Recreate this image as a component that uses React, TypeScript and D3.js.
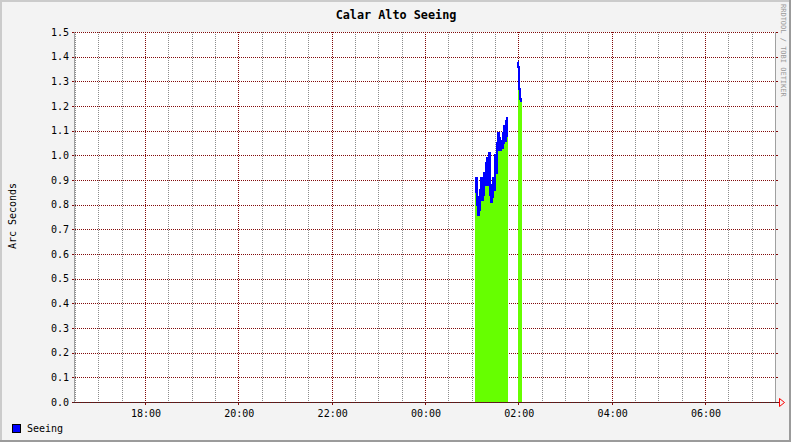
import React from 'react';
import * as d3 from 'd3';

const TITLE = 'Calar Alto Seeing';
const Y_LABEL = 'Arc Seconds';
const WATERMARK = 'RRDTOOL / TOBI OETIKER';
const SERIES_NAME = 'Seeing';

const RANGE_START = '2000-01-01T16:30:00Z';
const RANGE_END = '2000-01-02T07:30:00Z';
const DAY1 = '2000-01-01';
const DAY2 = '2000-01-02';

const Y_TICKS = [0.0, 0.1, 0.2, 0.3, 0.4, 0.5, 0.6, 0.7, 0.8, 0.9, 1.0, 1.1, 1.2, 1.3, 1.4, 1.5];
const X_MAJOR_LABELS = ['18:00', '20:00', '22:00', '00:00', '02:00', '04:00', '06:00'];

const STEP_MIN = 1;
const SEG1_START = '01:04';
const SEG1_VALUES = [
  0.90, 0.85, 0.91, 0.80, 0.76, 0.83, 0.78, 0.86, 0.91, 0.82,
  0.89, 0.84, 0.93, 0.88, 0.97, 0.91, 0.99, 0.88, 1.01, 0.92,
  0.84, 0.81, 0.88, 0.83, 0.91, 0.86, 1.00, 0.93, 1.05, 1.02,
  1.09, 1.03, 1.07, 1.02, 1.06, 1.03, 1.09, 1.05, 1.12, 1.06,
  1.14, 1.08, 1.15,
];
const SEG2_START = '01:59';
const SEG2_VALUES = [1.38, 1.36, 1.27, 1.23, 1.22, 1.22];

const W = 791;
const H = 442;
const LEFT = 75;
const RIGHT = 775;
const TOP = 32;
const BOTTOM = 402;

const MONO = '"DejaVu Sans Mono", "Liberation Mono", monospace';
const MGRID = '#820a0a';
const GRID = '#8c8c8c';

function toDate(hm: string, day: string) {
  return new Date(`${day}T${hm}:00Z`);
}

function buildSeg(start: string, values: number[]) {
  const t0 = toDate(start, DAY2).getTime();
  const pts = values.map((v, i) => ({ t: new Date(t0 + i * STEP_MIN * 60000), v }));
  // closing point so the last step has width
  pts.push({ t: new Date(t0 + values.length * STEP_MIN * 60000), v: values[values.length - 1] });
  return pts;
}

export default function App() {
  const x = d3.scaleUtc().domain([new Date(RANGE_START), new Date(RANGE_END)]).range([LEFT, RIGHT]);
  const y = d3.scaleLinear().domain([0, 1.5]).range([BOTTOM, TOP]);

  const minorTicks = x.ticks(d3.utcMinute.every(30) as any);
  const majorTicks = X_MAJOR_LABELS.map((l) => (l >= '12:00' ? toDate(l, DAY1) : toDate(l, DAY2)));
  const fmt = d3.utcFormat('%H:%M');

  const segs = [buildSeg(SEG1_START, SEG1_VALUES), buildSeg(SEG2_START, SEG2_VALUES)];
  const area = d3
    .area<{ t: Date; v: number }>()
    .x((d) => x(d.t))
    .y0(y(0))
    .y1((d) => y(d.v))
    .curve(d3.curveStepAfter);
  const line = d3
    .line<{ t: Date; v: number }>()
    .x((d) => x(d.t))
    .y((d) => y(d.v))
    .curve(d3.curveStepAfter);

  const px = (v: number) => Math.round(v) + 0.5;

  return (
    <svg
      width={W}
      height={H}
      style={{ position: 'absolute', left: 0, top: 0, display: 'block' }}
      fontFamily={MONO}
    >
      <rect x={0} y={0} width={W} height={H} fill="#f3f3f3" />
      <rect x={0} y={0} width={W} height={2} fill="#cbcbcb" />
      <rect x={0} y={0} width={2} height={H} fill="#cbcbcb" />
      <rect x={0} y={H - 2} width={W} height={2} fill="#9b9b9b" />
      <rect x={W - 2} y={0} width={2} height={H} fill="#9b9b9b" />

      <rect x={LEFT} y={TOP} width={RIGHT - LEFT} height={BOTTOM - TOP} fill="#ffffff" />

      <g shapeRendering="crispEdges">
        {minorTicks.map((t, i) => (
          <line key={'mv' + i} x1={px(x(t))} x2={px(x(t))} y1={TOP} y2={BOTTOM} stroke={GRID} strokeDasharray="1,1" />
        ))}
        {majorTicks.map((t, i) => (
          <g key={'Mv' + i}>
            <line x1={px(x(t))} x2={px(x(t))} y1={TOP} y2={BOTTOM} stroke={MGRID} strokeDasharray="1,1" />
            <line x1={px(x(t))} x2={px(x(t))} y1={BOTTOM} y2={BOTTOM + 3} stroke={MGRID} />
          </g>
        ))}
        {Y_TICKS.map((v, i) => (
          <g key={'h' + i}>
            <line x1={LEFT} x2={RIGHT} y1={px(y(v))} y2={px(y(v))} stroke={MGRID} strokeDasharray="1,1" />
            <line x1={LEFT - 3} x2={LEFT} y1={px(y(v))} y2={px(y(v))} stroke={MGRID} />
            <line x1={RIGHT} x2={RIGHT + 3} y1={px(y(v))} y2={px(y(v))} stroke={MGRID} />
          </g>
        ))}
      </g>

      <g shapeRendering="crispEdges">
        {segs.map((s, i) => (
          <path key={'a' + i} d={area(s) || ''} fill="#66ff00" />
        ))}
        {segs.map((s, i) => (
          <path key={'l' + i} d={line(s) || ''} fill="none" stroke="#0000ff" strokeWidth={2} />
        ))}
      </g>

      <g shapeRendering="crispEdges">
        <line x1={px(LEFT) - 1} x2={px(LEFT) - 1} y1={TOP} y2={BOTTOM} stroke="#a0a0a0" />
        <line x1={px(RIGHT)} x2={px(RIGHT)} y1={TOP} y2={BOTTOM} stroke="#a0a0a0" />
        <line x1={LEFT - 3} x2={RIGHT + 4} y1={px(BOTTOM)} y2={px(BOTTOM)} stroke="#303030" />
        <line x1={LEFT - 3} x2={RIGHT + 4} y1={px(BOTTOM)} y2={px(BOTTOM)} stroke={MGRID} strokeDasharray="1,1" />
      </g>
      <path
        d={`M${RIGHT + 4.5},${BOTTOM - 3.5} L${RIGHT + 4.5},${BOTTOM + 4.5} L${RIGHT + 9.5},${BOTTOM + 0.5} Z`}
        fill="none"
        stroke="#ff0000"
        strokeWidth={1}
      />

      {Y_TICKS.map((v, i) => (
        <text key={'yl' + i} x={69} y={y(v) + 3.5} textAnchor="end" fontSize={10} fill="#000">
          {v.toFixed(1)}
        </text>
      ))}
      {majorTicks.map((t, i) => (
        <text key={'xl' + i} x={x(t) + 1} y={417} textAnchor="middle" fontSize={10} fill="#000">
          {fmt(t)}
        </text>
      ))}

      <text x={396} y={19} textAnchor="middle" fontSize={11.8} fontWeight="bold" fill="#000">
        {TITLE}
      </text>
      <text transform="translate(16,216) rotate(-90)" textAnchor="middle" fontSize={10} fill="#000">
        {Y_LABEL}
      </text>
      <text transform="translate(781,4) rotate(90)" textAnchor="start" fontSize={7} fill="#999">
        {WATERMARK}
      </text>

      <rect x={12.5} y={424.5} width={8} height={8} fill="#0000ff" stroke="#000" />
      <text x={27} y={432} fontSize={10} fill="#000">
        {SERIES_NAME}
      </text>
    </svg>
  );
}
